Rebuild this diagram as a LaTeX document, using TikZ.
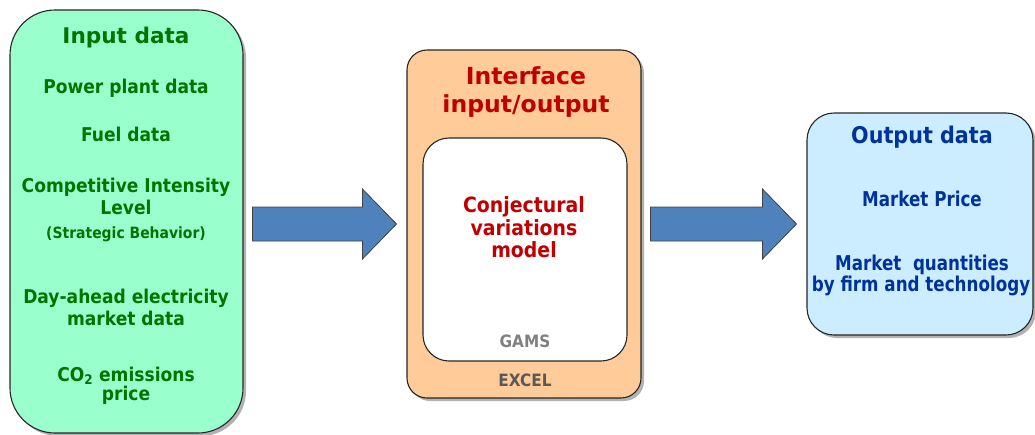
\documentclass[tikz,border=0pt]{standalone}
\usepackage{fontspec}
\setmainfont{DejaVu Sans}[FakeStretch=0.9]
\newfontfamily\headfont{DejaVu Sans}[FakeStretch=1.0]
\newfontfamily\narrowfont{DejaVu Sans}[FakeStretch=0.82]
\usetikzlibrary{calc,shadows}
\definecolor{InFill}{HTML}{99FFCC}
\definecolor{InText}{HTML}{007500}
\definecolor{IfFill}{HTML}{FFCC99}
\definecolor{IfText}{HTML}{C00000}
\definecolor{OutFill}{HTML}{CCECFF}
\definecolor{OutText}{HTML}{003399}
\definecolor{ArrowFill}{HTML}{4F81BD}
\newcommand\boldsize[1]{\fontsize{#1}{#1}\selectfont\bfseries}

\begin{document}
\begin{tikzpicture}[
    x=1pt,y=-1pt,
    box/.style={draw=black!85,line width=1.1pt,rounded corners=#1},
    boxshadow/.style={drop shadow={shadow xshift=3pt,shadow yshift=-3pt,
      fill=black,opacity=0.3}},
    txt/.style={anchor=base,inner sep=0pt},
    intxt/.style={txt,text=InText,font=\boldsize{19}},
    iftxt/.style={txt,text=IfText,font=\boldsize{21}},
    outtxt/.style={txt,text=OutText,font=\narrowfont\boldsize{20.4}},
    blockarrow/.style={fill=ArrowFill,draw=black!75,line width=0.8pt}
  ]
  \useasboundingbox (0,0) rectangle (1035,434);

  % boxes
  \node[box=45pt,boxshadow,fill=InFill,minimum width=233pt,minimum height=423pt]
    (input) at (126.5,221.5) {};
  \node[box=20pt,boxshadow,fill=IfFill,minimum width=234pt,minimum height=348pt]
    (iface) at (524,224) {};
  \node[box=26pt,fill=white,minimum width=204pt,minimum height=223pt]
    (model) at (525,249.5) {};
  \node[box=27pt,boxshadow,fill=OutFill,minimum width=226pt,minimum height=222pt]
    (output) at (920,224) {};

  % input data
  \node[intxt,font=\headfont\boldsize{21.6}] (intitle) at (126,43) {Input data};
  \node[intxt] (plant) at (126,93) {Power plant data};
  \node[intxt] (fuel) at (126,141) {Fuel data};
  \node[intxt] (cil) at (126,192) {Competitive Intensity};
  \node[intxt] (cil2) at (126,214) {Level};
  \node[intxt,font=\boldsize{15.5}] (behav) at (126,238) {(Strategic Behavior)};
  \node[intxt] (dayahead) at (126,303) {Day-ahead electricity};
  \node[intxt] (dayahead2) at (126,325) {market data};
  \node[intxt] (co2) at (126,381) {CO\textsubscript{2} emissions};
  \node[intxt] (co2b) at (126,400) {price};

  % interface
  \node[iftxt,font=\headfont\boldsize{23.5}] (iftitle) at (526,84) {Interface};
  \node[iftxt,font=\headfont\boldsize{23.5}] (iftitle2) at (526,112) {input/output};
  \node[iftxt] (cvm) at (524,212) {Conjectural};
  \node[iftxt] (cvm2) at (524,235) {variations};
  \node[iftxt] (cvm3) at (524,257) {model};
  \node[txt,text=black!50,font=\boldsize{17}] (gams) at (525,347) {GAMS};
  \node[txt,text=black!65,font=\boldsize{17}] (excel) at (525,386) {EXCEL};

  % output data
  \node[outtxt,font=\boldsize{23}] (outtitle) at (922,143) {Output data};
  \node[outtxt] (price) at (922,206) {Market Price};
  \node[outtxt] (qty) at (922,270) {Market\ \ quantities};
  \node[outtxt] (qty2) at (921,291) {by firm and technology};

  % block arrows between the boxes
  \foreach \a/\b in {input/iface,iface/output}
    \draw[blockarrow] ($(\a.east |- \b.west)+(9,-17)$) -- ($(\b.west)+(-44,-17)$)
      -- ($(\b.west)+(-44,-35)$) -- ($(\b.west)+(-10,0)$)
      -- ($(\b.west)+(-44,35)$) -- ($(\b.west)+(-44,17)$)
      -- ($(\a.east |- \b.west)+(9,17)$) -- cycle;
\end{tikzpicture}
\end{document}
